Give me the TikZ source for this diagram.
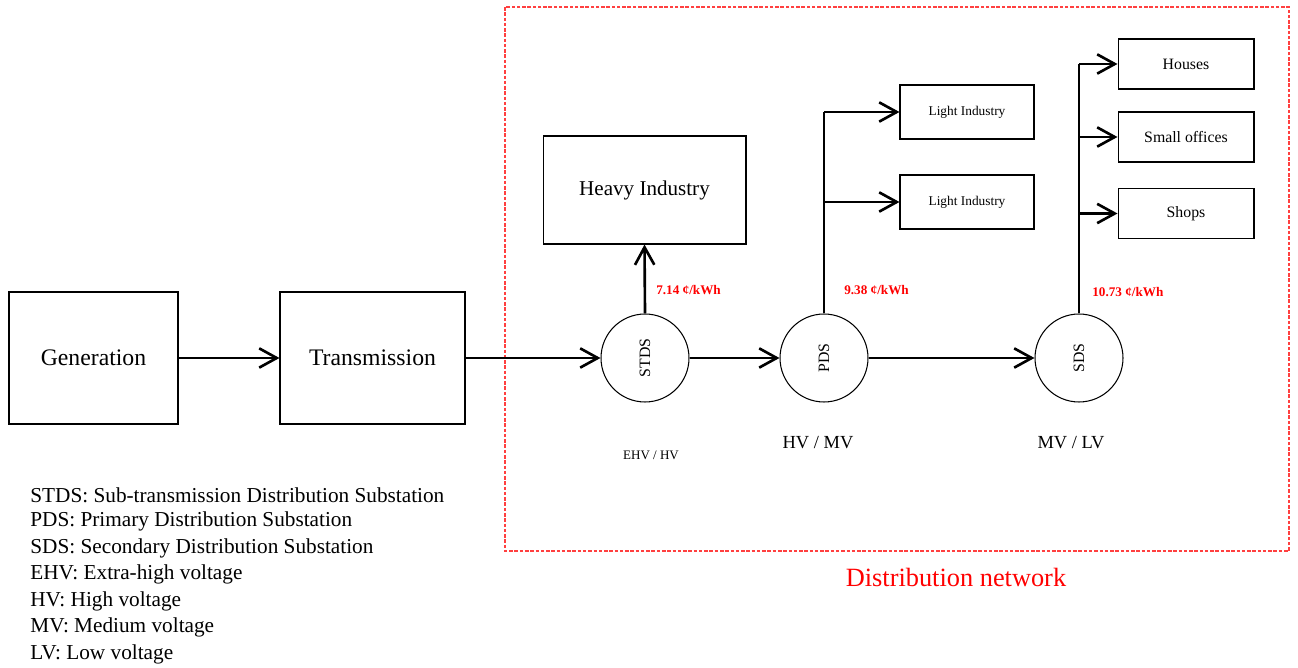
\documentclass[tikz,border=0pt]{standalone}
\usepackage{fontspec}
\setmainfont{Liberation Serif}
\usepackage{tikz}
\usetikzlibrary{arrows.meta, calc}
\definecolor{netred}{HTML}{FF0000}

\begin{document}
\begin{tikzpicture}[x=0.02cm, y=-0.02cm,
  box/.style={draw, line width=0.6pt, minimum width=#1, inner sep=0pt},
  station/.style={draw, circle, line width=0.6pt, minimum size=1.76cm, inner sep=0pt, font=\fontsize{9}{9}\selectfont},
  feed/.style={line width=1.5pt, -{Straight Barb[length=10pt, width=11pt, line width=1.5pt]}},
  trunk/.style={line width=1.5pt},
  price/.style={anchor=west, inner sep=0pt, text=netred, font=\fontsize{7.5}{7.5}\selectfont\bfseries},
  level/.style={font=\fontsize{10.5}{10.5}\selectfont}]
  \useasboundingbox (0,0) rectangle (1298,668);

  % Distribution network frame
  \draw[netred!75, dash pattern=on 2pt off 1pt, line width=0.6pt] (505,7) rectangle (1289,551);
  \node[text=netred, font=\fontsize{15}{15}\selectfont] (netlabel) at (956,577) {Distribution network};

  % Generation and transmission
  \node[box=3.38cm, minimum height=2.64cm, font=\fontsize{13.5}{13.5}\selectfont] (gen) at (93.5,358) {Generation};
  \node[box=3.7cm, minimum height=2.64cm, font=\fontsize{13.5}{13.5}\selectfont] (trans) at (372.5,358) {Transmission};

  % Substations
  \node[station] (stds) at (645,358) {\rotatebox{90}{STDS}};
  \node[station] (pds) at (824,358) {\rotatebox{90}{PDS}};
  \node[station] (sds) at (1079,358) {\rotatebox{90}{SDS}};

  % Loads
  \node[box=4.06cm, minimum height=2.16cm, font=\fontsize{12}{12}\selectfont] (heavy) at (644.5,190) {Heavy Industry};
  \node[box=2.68cm, minimum height=1.08cm, font=\fontsize{7.6}{7.6}\selectfont] (light1) at (967,112) {Light Industry};
  \node[box=2.68cm, minimum height=1.08cm, font=\fontsize{7.6}{7.6}\selectfont] (light2) at (967,202) {Light Industry};
  \node[box=2.72cm, minimum height=1cm, font=\fontsize{9}{9}\selectfont] (houses) at (1186,64) {Houses};
  \node[box=2.72cm, minimum height=1cm, font=\fontsize{9}{9}\selectfont] (offices) at (1186,137) {Small offices};
  \node[box=2.72cm, minimum height=1cm, font=\fontsize{9}{9}\selectfont] (shops) at (1186,213.5) {Shops};

  % Main feed
  \draw[feed] (gen) -- (trans);
  \draw[feed] (trans) -- (stds);
  \draw[feed] (stds) -- (pds);
  \draw[feed] (pds) -- (sds);

  % Branches
  \draw[feed] (stds.north) -- (heavy.south);
  \draw[trunk] (pds.north) -- (pds.north |- light1.west);
  \draw[feed] (pds.north |- light1.west) -- (light1.west);
  \draw[feed] (pds.north |- light2.west) -- (light2.west);
  \draw[trunk] (sds.north) -- (sds.north |- houses.west);
  \draw[feed] (sds.north |- houses.west) -- (houses.west);
  \draw[feed] (sds.north |- offices.west) -- (offices.west);
  \draw[feed] (sds.north |- shops.west) -- (shops.west);

  % Prices
  \node[price] (p1) at (656,290) {7.14 ¢/kWh};
  \node[price] (p2) at (844,290) {9.38 ¢/kWh};
  \node[price] (p3) at (1092,292) {10.73 ¢/kWh};

  % Voltage levels
  \node[font=\fontsize{7.4}{7.4}\selectfont] (v1) at (651,455) {EHV / HV};
  \node[level] (v2) at (818,443) {HV / MV};
  \node[level] (v3) at (1071,443) {MV / LV};

  % Legend
  \foreach \i/\txt in {
    0/STDS: Sub-transmission Distribution Substation,
    1/PDS: Primary Distribution Substation,
    2/SDS: Secondary Distribution Substation,
    3/EHV: Extra-high voltage,
    4/HV: High voltage,
    5/MV: Medium voltage,
    6/LV: Low voltage
  }{
    \node[anchor=west, inner sep=0pt, font=\fontsize{12.1}{12.1}\selectfont] (leg\i) at (30,495+26.5*\i) {\txt};
  }
\end{tikzpicture}
\end{document}
